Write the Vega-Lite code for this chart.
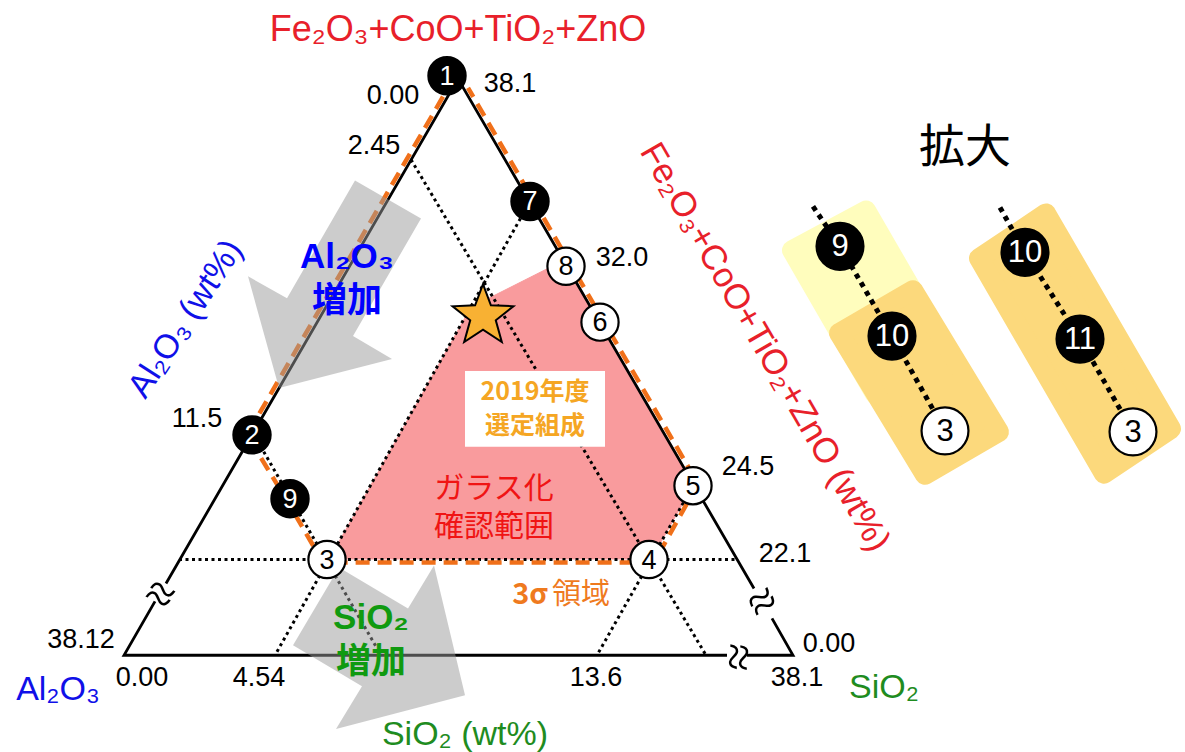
{
  "$schema": "https://vega.github.io/schema/vega-lite/v6.json",
  "width": 1185,
  "height": 752,
  "autosize": {"type": "fit", "contains": "padding"},
  "padding": 0,
  "background": "#ffffff",
  "config": {"view": {"stroke": null}},
  "datasets": {
    "panels": [
      {"panel": "a", "i": 0, "x": 668, "y": 406}, {"panel": "a", "i": 1, "x": 742, "y": 446}, {"panel": "a", "i": 2, "x": 825, "y": 302}, {"panel": "a", "i": 3, "x": 751, "y": 262}, {"panel": "a", "i": 4, "x": 668, "y": 406},
      {"panel": "b", "i": 0, "x": 715, "y": 323}, {"panel": "b", "i": 1, "x": 789, "y": 366}, {"panel": "b", "i": 2, "x": 875, "y": 224}, {"panel": "b", "i": 3, "x": 801, "y": 181}, {"panel": "b", "i": 4, "x": 715, "y": 323},
      {"panel": "c", "i": 0, "x": 855, "y": 398}, {"panel": "c", "i": 1, "x": 922, "y": 443}, {"panel": "c", "i": 2, "x": 1047, "y": 227}, {"panel": "c", "i": 3, "x": 980, "y": 182}, {"panel": "c", "i": 4, "x": 855, "y": 398}
    ],
    "glass": [
      {"i": 0, "x": 205, "y": 96}, {"i": 1, "x": 347, "y": 349}, {"i": 2, "x": 440, "y": 396}, {"i": 3, "x": 570, "y": 172}, {"i": 4, "x": 527, "y": 96}
    ],
    "edges": [
      {"seg": "lower-left", "i": 0, "x": 31, "y": 54}, {"seg": "lower-left", "i": 1, "x": 0, "y": 0}, {"seg": "lower-left", "i": 2, "x": 603, "y": 0},
      {"seg": "lower-right", "i": 0, "x": 623, "y": 0}, {"seg": "lower-right", "i": 1, "x": 669, "y": 0}, {"seg": "lower-right", "i": 2, "x": 648, "y": 37},
      {"seg": "upper", "i": 0, "x": 42, "y": 72}, {"seg": "upper", "i": 1, "x": 334, "y": 578}, {"seg": "upper", "i": 2, "x": 630, "y": 67}
    ],
    "guides": [
      {"line": "A", "i": 0, "x": 287, "y": 497}, {"line": "A", "i": 1, "x": 582, "y": 0},
      {"line": "B", "i": 0, "x": 406, "y": 455}, {"line": "B", "i": 1, "x": 151, "y": 0},
      {"line": "C", "i": 0, "x": 130, "y": 221}, {"line": "C", "i": 1, "x": 257, "y": 0},
      {"line": "D", "i": 0, "x": 569, "y": 170}, {"line": "D", "i": 1, "x": 473, "y": 0},
      {"line": "E", "i": 0, "x": 55, "y": 96}, {"line": "E", "i": 1, "x": 614, "y": 96}
    ],
    "zoomGuides": [
      {"line": "left", "i": 0, "x": 689, "y": 450}, {"line": "left", "i": 1, "x": 716, "y": 410}, {"line": "left", "i": 2, "x": 768, "y": 320}, {"line": "left", "i": 3, "x": 821, "y": 225},
      {"line": "right", "i": 0, "x": 876, "y": 449}, {"line": "right", "i": 1, "x": 901, "y": 404}, {"line": "right", "i": 2, "x": 956, "y": 317}, {"line": "right", "i": 3, "x": 1009, "y": 224}
    ],
    "sigma": [
      {"i": 0, "x": 319, "y": 560}, {"i": 1, "x": 123, "y": 221}, {"i": 2, "x": 163, "y": 155}, {"i": 3, "x": 199, "y": 93},
      {"i": 4, "x": 530, "y": 93}, {"i": 5, "x": 574, "y": 172}, {"i": 6, "x": 344, "y": 569}
    ],
    "arrows": [
      {"arrow": "Al2O3", "i": 0, "x": 231, "y": 476}, {"arrow": "Al2O3", "i": 1, "x": 297, "y": 438}, {"arrow": "Al2O3", "i": 2, "x": 229, "y": 320}, {"arrow": "Al2O3", "i": 3, "x": 268, "y": 297}, {"arrow": "Al2O3", "i": 4, "x": 155, "y": 268}, {"arrow": "Al2O3", "i": 5, "x": 124, "y": 380}, {"arrow": "Al2O3", "i": 6, "x": 163, "y": 358},
      {"arrow": "SiO2", "i": 0, "x": 215, "y": 88}, {"arrow": "SiO2", "i": 1, "x": 284, "y": 47}, {"arrow": "SiO2", "i": 2, "x": 310, "y": 90}, {"arrow": "SiO2", "i": 3, "x": 341, "y": -40}, {"arrow": "SiO2", "i": 4, "x": 212, "y": -74}, {"arrow": "SiO2", "i": 5, "x": 238, "y": -31}, {"arrow": "SiO2", "i": 6, "x": 169, "y": 10}
    ],
    "star": [{"name": "2019", "x": 359, "y": 340}],
    "box": [{"x": 341, "x2": 481, "y": 209, "y2": 285}],
    "points": [
      {"n": "1", "x": 323, "y": 581, "kind": "closed", "view": "main"},
      {"n": "7", "x": 406, "y": 455, "kind": "closed", "view": "main"},
      {"n": "8", "x": 442, "y": 390, "kind": "open", "view": "main"},
      {"n": "6", "x": 476, "y": 334, "kind": "open", "view": "main"},
      {"n": "2", "x": 128, "y": 221, "kind": "closed", "view": "main"},
      {"n": "9", "x": 166, "y": 157, "kind": "closed", "view": "main"},
      {"n": "3", "x": 203, "y": 96, "kind": "open", "view": "main"},
      {"n": "5", "x": 569, "y": 170, "kind": "open", "view": "main"},
      {"n": "4", "x": 525, "y": 96, "kind": "open", "view": "main"},
      {"n": "9", "x": 716, "y": 410, "kind": "closed", "view": "zoom"},
      {"n": "10", "x": 768, "y": 320, "kind": "closed", "view": "zoom"},
      {"n": "3", "x": 821, "y": 225, "kind": "open", "view": "zoom"},
      {"n": "10", "x": 901, "y": 404, "kind": "closed", "view": "zoom"},
      {"n": "11", "x": 956, "y": 317, "kind": "closed", "view": "zoom"},
      {"n": "3", "x": 1009, "y": 224, "kind": "open", "view": "zoom"}
    ],
    "ticks": [
      {"t": "0.00", "x": 269, "y": 561}, {"t": "38.1", "x": 386, "y": 573}, {"t": "2.45", "x": 250, "y": 511},
      {"t": "32.0", "x": 498, "y": 398}, {"t": "11.5", "x": 73, "y": 237}, {"t": "24.5", "x": 624, "y": 189},
      {"t": "22.1", "x": 661, "y": 102}, {"t": "38.12", "x": -43, "y": 15}, {"t": "0.00", "x": 18, "y": -23},
      {"t": "4.54", "x": 135, "y": -23}, {"t": "13.6", "x": 472, "y": -23}, {"t": "38.1", "x": 673, "y": -23},
      {"t": "0.00", "x": 705, "y": 11}
    ],
    "breaks": [
      {"edge": "left", "x": 36, "y": 60}, {"edge": "right", "x": 639, "y": 53}, {"edge": "base", "x": 613, "y": -2}
    ],
    "notes": [
      {"g": "title", "t": "Fe₂O₃+CoO+TiO₂+ZnO", "x": 334, "y": 627},
      {"g": "rightAxis", "t": "Fe₂O₃+CoO+TiO₂+ZnO (wt%)", "x": 641, "y": 309},
      {"g": "leftAxis", "t": "Al₂O₃ (wt%)", "x": 62, "y": 337},
      {"g": "corner", "c": "Al2O3", "t": "Al₂O₃", "x": -66, "y": -35},
      {"g": "corner", "c": "SiO2", "t": "SiO₂", "x": 760, "y": -33},
      {"g": "corner", "c": "SiO2", "t": "SiO₂ (wt%)", "x": 341, "y": -80},
      {"g": "increase", "c": "Al2O3", "t": "Al₂O₃\n増加", "x": 223, "y": 399},
      {"g": "increase", "c": "SiO2", "t": "SiO₂\n増加", "x": 247, "y": 37},
      {"g": "selected", "t": "2019年度\n選定組成", "x": 411, "y": 264},
      {"g": "glass", "t": "ガラス化\n確認範囲", "x": 370, "y": 167},
      {"g": "sigmaBold", "t": "3σ", "x": 406, "y": 60},
      {"g": "sigmaPlain", "t": "領域", "x": 457, "y": 60},
      {"g": "zoomTitle", "t": "拡大", "x": 841, "y": 509}
    ]
  },
  "encoding": {
    "x": {"field": "x", "type": "quantitative", "scale": {"domain": [-124, 1061], "nice": false, "zero": false}, "axis": null},
    "y": {"field": "y", "type": "quantitative", "scale": {"domain": [-95, 657], "nice": false, "zero": false}, "axis": null}
  },
  "resolve": {"scale": {"color": "independent", "fill": "independent", "size": "independent"}},
  "layer": [
    {
      "data": {"name": "panels"},
      "transform": [{"filter": "datum.panel === 'a'"}],
      "mark": {"type": "line", "fill": "#fffdbd", "stroke": "#fffdbd", "strokeWidth": 20, "strokeJoin": "round", "strokeCap": "round"},
      "encoding": {"order": {"field": "i"}, "detail": {"field": "panel"}}
    },
    {
      "data": {"name": "panels"},
      "transform": [{"filter": "datum.panel !== 'a'"}],
      "mark": {"type": "line", "fill": "#fcd97c", "stroke": "#fcd97c", "strokeWidth": 20, "strokeJoin": "round", "strokeCap": "round"},
      "encoding": {"order": {"field": "i"}, "detail": {"field": "panel"}}
    },
    {
      "data": {"name": "glass"},
      "mark": {"type": "line", "fill": "#f99b9d", "stroke": "#f99b9d", "strokeWidth": 1},
      "encoding": {"order": {"field": "i"}}
    },
    {
      "data": {"name": "guides"},
      "mark": {"type": "line", "color": "#000000", "strokeWidth": 3, "strokeDash": [3, 3.5]},
      "encoding": {"order": {"field": "i"}, "detail": {"field": "line"}}
    },
    {
      "data": {"name": "zoomGuides"},
      "mark": {"type": "line", "color": "#000000", "strokeWidth": 5, "strokeDash": [5, 5]},
      "encoding": {"order": {"field": "i"}, "detail": {"field": "line"}}
    },
    {
      "data": {"name": "edges"},
      "mark": {"type": "line", "color": "#000000", "strokeWidth": 2.8, "strokeJoin": "miter"},
      "encoding": {"order": {"field": "i"}, "detail": {"field": "seg"}}
    },
    {
      "data": {"name": "box"},
      "mark": {"type": "rect", "color": "#ffffff"},
      "encoding": {"x2": {"field": "x2"}, "y2": {"field": "y2"}}
    },
    {
      "data": {"name": "sigma"},
      "mark": {"type": "line", "color": "#f0701a", "strokeWidth": 4.5, "strokeDash": [14, 8]},
      "encoding": {"order": {"field": "i"}}
    },
    {
      "data": {"name": "arrows"},
      "mark": {"type": "line", "fill": "#9a9a9a", "strokeWidth": 0, "opacity": 0.5},
      "encoding": {"order": {"field": "i"}, "detail": {"field": "arrow"}}
    },
    {
      "data": {"name": "star"},
      "mark": {"type": "point", "shape": "M0,-1L0.2469,-0.3398L0.9511,-0.309L0.3994,0.1298L0.5878,0.809L0,0.42L-0.5878,0.809L-0.3994,0.1298L-0.9511,-0.309L-0.2469,-0.3398Z", "size": 4096, "filled": true, "fill": "#f8b133", "stroke": "#000000", "strokeWidth": 2, "opacity": 1}
    },
    {
      "data": {"name": "points"},
      "mark": {"type": "point", "shape": "circle", "filled": true, "stroke": "#000000", "strokeWidth": 2.2, "opacity": 1},
      "encoding": {
        "fill": {"field": "kind", "type": "nominal", "scale": {"domain": ["closed", "open"], "range": ["#000000", "#ffffff"]}, "legend": null},
        "size": {"field": "view", "type": "nominal", "scale": {"domain": ["main", "zoom"], "range": [1385, 2200]}, "legend": null}
      }
    },
    {
      "data": {"name": "points"},
      "mark": {"type": "text", "font": "Liberation Sans", "align": "center", "baseline": "middle", "dy": 1},
      "encoding": {
        "text": {"field": "n"},
        "color": {"field": "kind", "type": "nominal", "scale": {"domain": ["closed", "open"], "range": ["#ffffff", "#000000"]}, "legend": null},
        "size": {"field": "view", "type": "nominal", "scale": {"domain": ["main", "zoom"], "range": [27, 31]}, "legend": null}
      }
    },
    {
      "data": {"name": "ticks"},
      "mark": {"type": "text", "font": "Liberation Sans", "fontSize": 27, "color": "#000000", "align": "center", "baseline": "middle"},
      "encoding": {"text": {"field": "t"}}
    },
    {
      "data": {"name": "breaks"},
      "transform": [{"filter": "datum.edge === 'left'"}],
      "mark": {"type": "text", "font": "DejaVu Sans", "fontSize": 50, "fontWeight": 200, "color": "#000000", "align": "center", "baseline": "middle", "angle": 28},
      "encoding": {"text": {"value": "≈"}}
    },
    {
      "data": {"name": "breaks"},
      "transform": [{"filter": "datum.edge === 'right'"}],
      "mark": {"type": "text", "font": "DejaVu Sans", "fontSize": 50, "fontWeight": 200, "color": "#000000", "align": "center", "baseline": "middle", "angle": -32},
      "encoding": {"text": {"value": "≈"}}
    },
    {
      "data": {"name": "breaks"},
      "transform": [{"filter": "datum.edge === 'base'"}],
      "mark": {"type": "text", "font": "DejaVu Sans", "fontSize": 50, "fontWeight": 200, "color": "#000000", "align": "center", "baseline": "middle", "angle": 95},
      "encoding": {"text": {"value": "≈"}}
    },
    {
      "data": {"name": "notes"},
      "transform": [{"filter": "datum.g === 'title'"}],
      "mark": {"type": "text", "font": "Liberation Sans", "fontSize": 36, "color": "#e8202a", "align": "center", "baseline": "middle"},
      "encoding": {"text": {"field": "t"}}
    },
    {
      "data": {"name": "notes"},
      "transform": [{"filter": "datum.g === 'rightAxis'"}],
      "mark": {"type": "text", "font": "Liberation Sans", "fontSize": 35, "color": "#e8202a", "align": "center", "baseline": "middle", "angle": 60},
      "encoding": {"text": {"field": "t"}}
    },
    {
      "data": {"name": "notes"},
      "transform": [{"filter": "datum.g === 'leftAxis'"}],
      "mark": {"type": "text", "font": "Liberation Sans", "fontSize": 34, "color": "#1010e8", "align": "center", "baseline": "middle", "angle": -57},
      "encoding": {"text": {"field": "t"}}
    },
    {
      "data": {"name": "notes"},
      "transform": [{"filter": "datum.g === 'corner'"}],
      "mark": {"type": "text", "font": "Liberation Sans", "fontSize": 34, "align": "center", "baseline": "middle"},
      "encoding": {
        "text": {"field": "t"},
        "color": {"field": "c", "type": "nominal", "scale": {"domain": ["Al2O3", "SiO2"], "range": ["#1010e8", "#1f8c1f"]}, "legend": null}
      }
    },
    {
      "data": {"name": "notes"},
      "transform": [{"filter": "datum.g === 'increase'"}],
      "mark": {"type": "text", "font": "'Liberation Sans', 'Noto Sans CJK JP', sans-serif", "fontSize": 35, "fontWeight": "bold", "align": "center", "baseline": "middle", "lineBreak": "\n", "lineHeight": 44},
      "encoding": {
        "text": {"field": "t"},
        "color": {"field": "c", "type": "nominal", "scale": {"domain": ["Al2O3", "SiO2"], "range": ["#0000ff", "#109a10"]}, "legend": null}
      }
    },
    {
      "data": {"name": "notes"},
      "transform": [{"filter": "datum.g === 'selected'"}],
      "mark": {"type": "text", "font": "Noto Sans CJK JP", "fontSize": 25, "fontWeight": "bold", "color": "#f5a623", "align": "center", "baseline": "middle", "lineBreak": "\n", "lineHeight": 34},
      "encoding": {"text": {"field": "t"}}
    },
    {
      "data": {"name": "notes"},
      "transform": [{"filter": "datum.g === 'glass'"}],
      "mark": {"type": "text", "font": "Noto Sans CJK JP", "fontSize": 30, "color": "#f01414", "align": "center", "baseline": "middle", "lineBreak": "\n", "lineHeight": 38},
      "encoding": {"text": {"field": "t"}}
    },
    {
      "data": {"name": "notes"},
      "transform": [{"filter": "datum.g === 'sigmaBold'"}],
      "mark": {"type": "text", "font": "Noto Sans CJK JP", "fontSize": 29, "fontWeight": "bold", "color": "#ef7a1e", "align": "center", "baseline": "middle"},
      "encoding": {"text": {"field": "t"}}
    },
    {
      "data": {"name": "notes"},
      "transform": [{"filter": "datum.g === 'sigmaPlain'"}],
      "mark": {"type": "text", "font": "Noto Sans CJK JP", "fontSize": 29, "color": "#ef7a1e", "align": "center", "baseline": "middle"},
      "encoding": {"text": {"field": "t"}}
    },
    {
      "data": {"name": "notes"},
      "transform": [{"filter": "datum.g === 'zoomTitle'"}],
      "mark": {"type": "text", "font": "Noto Sans CJK JP", "fontSize": 46, "color": "#000000", "align": "center", "baseline": "middle"},
      "encoding": {"text": {"field": "t"}}
    }
  ]
}
